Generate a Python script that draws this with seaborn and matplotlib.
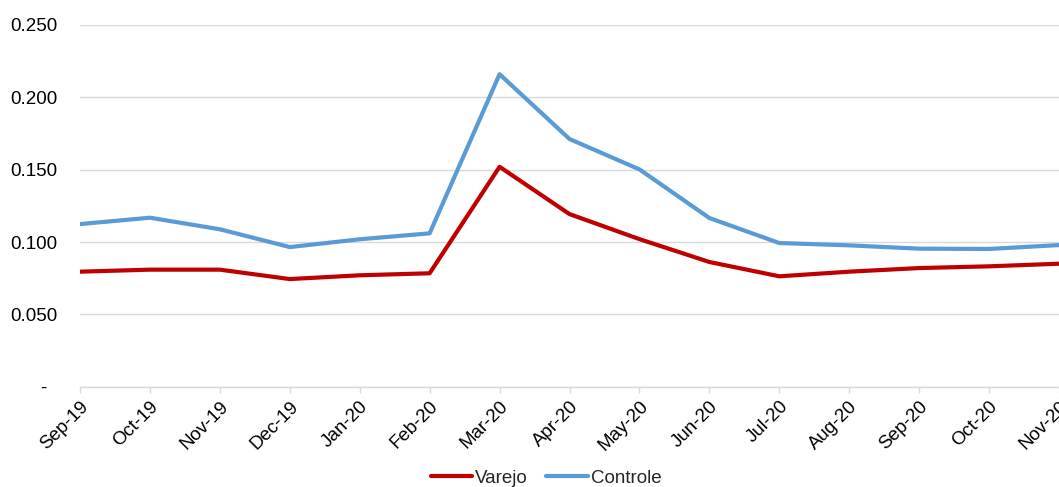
import matplotlib
matplotlib.use("Agg")
import matplotlib.pyplot as plt
import seaborn as sns
import pandas as pd

months = ["Sep-19", "Oct-19", "Nov-19", "Dec-19", "Jan-20", "Feb-20", "Mar-20",
          "Apr-20", "May-20", "Jun-20", "Jul-20", "Aug-20", "Sep-20", "Oct-20", "Nov-20"]
varejo = [0.0795, 0.0809, 0.0809, 0.0744, 0.0770, 0.0784, 0.1520,
          0.1193, 0.1020, 0.0862, 0.0763, 0.0795, 0.0820, 0.0832, 0.0850]
controle = [0.1124, 0.1168, 0.1088, 0.0965, 0.1019, 0.1060, 0.2160,
            0.1712, 0.1502, 0.1166, 0.0993, 0.0977, 0.0954, 0.0952, 0.0979]
series_names = ["Varejo", "Controle"]
yticks = [0.0, 0.05, 0.10, 0.15, 0.20, 0.25]
ytick_labels = ["-  ", "0.050", "0.100", "0.150", "0.200", "0.250"]

df = pd.DataFrame({
    "month": months * 2,
    "value": varejo + controle,
    "serie": [series_names[0]] * len(months) + [series_names[1]] * len(months),
})

sns.set_style("white")
plt.rcParams["font.family"] = ["Liberation Sans", "DejaVu Sans"]

fig = plt.figure(figsize=(10.59, 4.87), dpi=100)
ax = fig.add_axes([80 / 1059, 1 - 386.7 / 487, 1 - 80 / 1059, (386.7 - 25) / 487])

sns.lineplot(data=df, x="month", y="value", hue="serie", sort=False,
             palette={"Varejo": "#C00000", "Controle": "#5B9BD5"},
             linewidth=3, ax=ax, legend=False)

fs = 13.5
ax.set_xlim(0, 14)
ax.set_ylim(0, 0.25)
ax.set_yticks(yticks)
ax.set_yticklabels(ytick_labels)
ax.set_xlabel("")
ax.set_ylabel("")
ax.grid(axis="y", color="#D9D9D9", linewidth=1)
ax.set_axisbelow(True)
for s in ["top", "right", "left"]:
    ax.spines[s].set_visible(False)
ax.spines["bottom"].set_color("#D9D9D9")
ax.spines["bottom"].set_linewidth(1)

ax.tick_params(axis="y", length=0, pad=16, labelsize=fs, labelcolor="#000000")
ax.tick_params(axis="x", length=4, color="#D9D9D9", width=1, pad=4,
               labelsize=fs, labelcolor="#000000", bottom=True)
for lbl in ax.get_xticklabels():
    lbl.set_rotation(45)
    lbl.set_ha("right")
    lbl.set_rotation_mode("anchor")

from matplotlib.lines import Line2D
handles = [Line2D([], [], color="#C00000", lw=3),
           Line2D([], [], color="#5B9BD5", lw=3)]
fig.legend(handles, series_names, loc="center", ncol=2, frameon=False,
           bbox_to_anchor=(546 / 1059, 1 - 478 / 487), fontsize=fs,
           handlelength=2.2, handletextpad=0.15, columnspacing=1.0)

fig.savefig("out.png", dpi=100)
